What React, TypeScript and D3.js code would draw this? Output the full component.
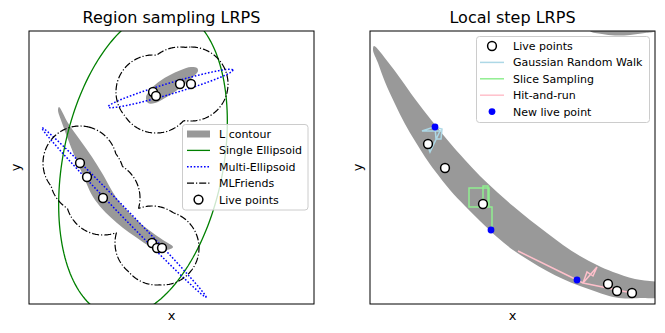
import React from "react";
import * as d3 from "d3";

// data units: both panels span 2.85 x 2.73 (same scale on both axes)

// ---- left panel: Region sampling LRPS ----
const regionLive = [
  [0.51, 1.41], [0.58, 1.27], [0.74, 1.06],
  [1.23, 0.61], [1.28, 0.56], [1.33, 0.56],
  [1.24, 2.12], [1.27, 2.08], [1.51, 2.2], [1.62, 2.2],
];
const regionBanana = [
  [0.3, 1.97], [0.39, 1.81], [0.51, 1.64], [0.63, 1.47], [0.73, 1.31], [0.89, 1.04],
  [1.11, 0.81], [1.34, 0.64], [1.44, 0.57], [1.38, 0.54], [1.24, 0.56], [1.11, 0.64],
  [0.88, 0.81], [0.66, 1.04], [0.53, 1.31], [0.46, 1.47], [0.33, 1.81], [0.29, 1.94],
];
const regionBlob = [
  [1.17, 2.07], [1.23, 2.16], [1.31, 2.23], [1.41, 2.29], [1.52, 2.34], [1.62, 2.37], [1.68, 2.36],
  [1.69, 2.33], [1.65, 2.28], [1.57, 2.21], [1.47, 2.13], [1.36, 2.06], [1.26, 2.01], [1.19, 2.01],
];
// [cx, cy, semi-axis a, semi-axis b, angle of a (deg)]
const singleEllipsoid = [1.14, 1.41, 1.56, 0.8, 78.5];
const multiEllipsoids = [
  [1.415, 2.155, 0.65, 0.055, 16.5],
  [0.95, 0.915, 1.18, 0.04, -45.9],
];
const friendsRadius = 0.37;

// ---- right panel: Local step LRPS ----
const stepLive = [[0.58, 1.6], [0.75, 1.36], [1.13, 1.0], [2.38, 0.2], [2.47, 0.13], [2.62, 0.11]];
const stepNew = [[0.65, 1.77], [1.21, 0.74], [2.07, 0.24]];
const stepBanana = [
  [0.04, 2.58], [0.18, 2.42], [0.3, 2.26], [0.45, 2.05], [0.62, 1.83], [0.8, 1.61], [0.95, 1.44],
  [1.1, 1.28], [1.27, 1.12], [1.43, 0.98], [1.6, 0.84], [1.77, 0.71], [1.93, 0.59], [2.1, 0.48],
  [2.27, 0.39], [2.43, 0.32], [2.65, 0.25], [2.95, 0.19],
  [2.95, 0.08], [2.7, 0.06], [2.55, 0.055], [2.43, 0.07], [2.27, 0.12], [2.1, 0.18], [1.93, 0.25],
  [1.77, 0.33], [1.6, 0.43], [1.43, 0.54], [1.27, 0.67], [1.1, 0.83], [0.95, 0.98], [0.8, 1.14],
  [0.65, 1.33], [0.55, 1.47], [0.45, 1.63], [0.35, 1.8], [0.25, 2.0], [0.15, 2.22], [0.08, 2.41],
  [0.03, 2.54],
];
const stepCorner = [
  [2.2, 2.73], [2.32, 2.7], [2.45, 2.685], [2.6, 2.69], [2.75, 2.71], [2.85, 2.73], [2.85, 2.8], [2.2, 2.8],
];
const gaussianWalk = [
  [0.57, 1.6], [0.6, 1.52], [0.7, 1.73], [0.52, 1.73], [0.64, 1.77], [0.72, 1.75],
  [0.71, 1.65], [0.66, 1.65], [0.65, 1.77],
];
const sliceSampling = [
  [1.13, 1.0], [1.13, 1.18], [1.18, 1.18], [1.18, 0.97], [0.99, 0.97], [0.99, 1.16],
  [1.19, 1.16], [1.19, 0.97], [1.22, 0.97], [1.22, 0.74],
];
const hitAndRun = [
  [2.62, 0.11], [2.13, 0.21], [2.27, 0.37], [2.23, 0.28], [2.17, 0.32], [2.13, 0.21], [1.48, 0.53], [2.07, 0.24],
];

const regionLegend = ["L contour", "Single Ellipsoid", "Multi-Ellipsoid", "MLFriends", "Live points"];
const stepLegend = ["Live points", "Gaussian Random Walk", "Slice Sampling", "Hit-and-run", "New live point"];

const FONT = "DejaVu Sans";
const GRAY = "#999999";
const DASHDOT = "7,2,1.2,2";
const DOTTED = "1.6,1.8";

const xL = d3.scaleLinear().domain([0, 2.85]).range([29, 314]);
const yL = d3.scaleLinear().domain([0, 2.73]).range([304, 31]);
const xR = d3.scaleLinear().domain([0, 2.85]).range([370, 655]);
const yR = d3.scaleLinear().domain([0, 2.73]).range([304, 31]);

function ellipsePts(e: number[]) {
  const [cx, cy, a, b, deg] = e;
  const r = (deg * Math.PI) / 180;
  return d3.range(0, 361, 2).map((t) => {
    const u = (t * Math.PI) / 180;
    return [
      cx + a * Math.cos(u) * Math.cos(r) - b * Math.sin(u) * Math.sin(r),
      cy + a * Math.cos(u) * Math.sin(r) + b * Math.sin(u) * Math.cos(r),
    ];
  });
}

// MLFriends: union of balls around the live points, traced with d3.contours
function friendsPath() {
  const step = 0.01;
  const nx = Math.round(2.85 / step) + 1;
  const ny = Math.round(2.73 / step) + 1;
  const vals = new Array(nx * ny);
  for (let j = 0; j < ny; j++) {
    for (let i = 0; i < nx; i++) {
      let d = Infinity;
      for (const p of regionLive) d = Math.min(d, Math.hypot(i * step - p[0], j * step - p[1]));
      vals[j * nx + i] = -d;
    }
  }
  const cs = d3.contours().size([nx, ny]).thresholds([-friendsRadius])(vals);
  const proj = d3.geoTransform({
    point: function (px: number, py: number) {
      (this as any).stream.point(xL((px - 0.5) * step), yL((py - 0.5) * step));
    },
  });
  return d3.geoPath(proj)(cs[0] as any) || "";
}

export default function App() {
  const lineL = d3.line().x((d: any) => xL(d[0])).y((d: any) => yL(d[1]));
  const lineR = d3.line().x((d: any) => xR(d[0])).y((d: any) => yR(d[1]));
  const blobL = d3.line().x((d: any) => xL(d[0])).y((d: any) => yL(d[1])).curve(d3.curveCatmullRomClosed);
  const blobR = d3.line().x((d: any) => xR(d[0])).y((d: any) => yR(d[1])).curve(d3.curveCatmullRomClosed);
  const friends = friendsPath();

  const rowY = (y0: number, i: number) => y0 + i * 16.4;

  return (
    <svg width={665} height={333} style={{ position: "absolute", left: 0, top: 0, background: "#fff" }}
      fontFamily={FONT}>
      <defs>
        <clipPath id="clipL"><rect x={29} y={31} width={285} height={273} /></clipPath>
        <clipPath id="clipR"><rect x={370} y={31} width={285} height={273} /></clipPath>
      </defs>

      {/* left panel */}
      <g clipPath="url(#clipL)">
        <path d={blobL(regionBanana as any) || ""} fill={GRAY} />
        <path d={blobL(regionBlob as any) || ""} fill={GRAY} />
        <path d={lineL(ellipsePts(singleEllipsoid) as any) || ""} fill="none" stroke="green" strokeWidth={1.3} />
        {multiEllipsoids.map((e, i) => (
          <path key={i} d={lineL(ellipsePts(e) as any) || ""} fill="none" stroke="blue"
            strokeWidth={1.5} strokeDasharray={DOTTED} />
        ))}
        <path d={friends} fill="none" stroke="black" strokeWidth={1.2} strokeDasharray={DASHDOT} />
        {regionLive.map((p, i) => (
          <circle key={i} cx={xL(p[0])} cy={yL(p[1])} r={4.4} fill="white" stroke="black" strokeWidth={1.5} />
        ))}
      </g>
      <rect x={29} y={31} width={285} height={273} fill="none" stroke="black" strokeWidth={1} />
      <text x={171.5} y={22.5} fontSize={16} textAnchor="middle">Region sampling LRPS</text>
      <text x={171.5} y={320} fontSize={13} textAnchor="middle">x</text>
      <text x={20} y={167.5} fontSize={13} textAnchor="middle" transform="rotate(-90,20,167.5)">y</text>

      {/* left legend */}
      <rect x={182.5} y={124.5} width={125.5} height={85.5} rx={3} fill="white" fillOpacity={0.8} stroke="#cccccc" />
      {regionLegend.map((label, i) => {
        const y = rowY(134, i);
        return (
          <g key={label}>
            {i === 0 && <rect x={187} y={y - 3.5} width={23} height={7} fill={GRAY} />}
            {i === 1 && <line x1={187} x2={210} y1={y} y2={y} stroke="green" strokeWidth={1.3} />}
            {i === 2 && <line x1={187} x2={210} y1={y} y2={y} stroke="blue" strokeWidth={1.5} strokeDasharray={DOTTED} />}
            {i === 3 && <line x1={187} x2={210} y1={y} y2={y} stroke="black" strokeWidth={1.2} strokeDasharray={DASHDOT} />}
            {i === 4 && <circle cx={198.5} cy={y} r={4.4} fill="white" stroke="black" strokeWidth={1.5} />}
            <text x={219} y={y + 4} fontSize={11}>{label}</text>
          </g>
        );
      })}

      {/* right panel */}
      <g clipPath="url(#clipR)">
        <path d={blobR(stepBanana as any) || ""} fill={GRAY} />
        <path d={blobR(stepCorner as any) || ""} fill={GRAY} />
        <path d={lineR(gaussianWalk as any) || ""} fill="none" stroke="lightblue" strokeWidth={1.5} />
        <path d={lineR(sliceSampling as any) || ""} fill="none" stroke="lightgreen" strokeWidth={1.5} />
        <path d={lineR(hitAndRun as any) || ""} fill="none" stroke="pink" strokeWidth={1.5} />
        {stepLive.map((p, i) => (
          <circle key={i} cx={xR(p[0])} cy={yR(p[1])} r={4.4} fill="white" stroke="black" strokeWidth={1.5} />
        ))}
        {stepNew.map((p, i) => (
          <circle key={i} cx={xR(p[0])} cy={yR(p[1])} r={3.4} fill="blue" />
        ))}
      </g>
      <rect x={370} y={31} width={285} height={273} fill="none" stroke="black" strokeWidth={1} />
      <text x={512.5} y={22.5} fontSize={16} textAnchor="middle">Local step LRPS</text>
      <text x={512.5} y={320} fontSize={13} textAnchor="middle">x</text>
      <text x={362} y={167.5} fontSize={13} textAnchor="middle" transform="rotate(-90,362,167.5)">y</text>

      {/* right legend */}
      <rect x={476.5} y={36.5} width={173} height={86} rx={3} fill="white" fillOpacity={0.8} stroke="#cccccc" />
      {stepLegend.map((label, i) => {
        const y = rowY(46, i);
        return (
          <g key={label}>
            {i === 0 && <circle cx={492} cy={y} r={4.4} fill="white" stroke="black" strokeWidth={1.5} />}
            {i === 1 && <line x1={480} x2={504} y1={y} y2={y} stroke="lightblue" strokeWidth={1.5} />}
            {i === 2 && <line x1={480} x2={504} y1={y} y2={y} stroke="lightgreen" strokeWidth={1.5} />}
            {i === 3 && <line x1={480} x2={504} y1={y} y2={y} stroke="pink" strokeWidth={1.5} />}
            {i === 4 && <circle cx={492} cy={y} r={3.4} fill="blue" />}
            <text x={513} y={y + 4} fontSize={11}>{label}</text>
          </g>
        );
      })}
    </svg>
  );
}
